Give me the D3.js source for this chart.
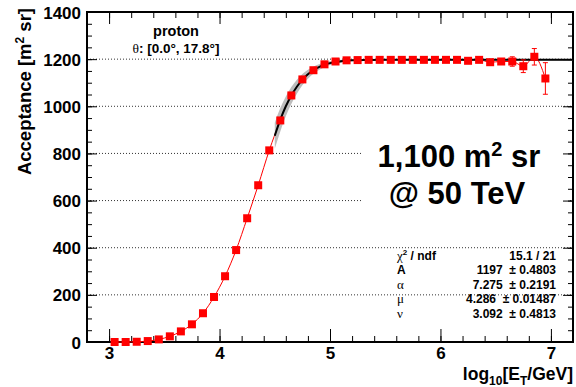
<!DOCTYPE html>
<html>
<head>
<meta charset="utf-8">
<script src="https://cdn.jsdelivr.net/npm/d3@7"></script>
<style>
  body { margin: 0; background: #fff; }
  svg { display: block; font-family: "Liberation Sans", Arial, sans-serif; }
  .greek { font-family: "Liberation Serif", serif; font-weight: normal; }
</style>
</head>
<body>
<div class="canvas"></div>
<script>
// canvas size and frame
const width = 576;
const height = 387;
const marginTop = 12;
const marginRight = 3;
const marginBottom = 45;
const marginLeft = 87;

// data
const logE = [3.05, 3.15, 3.25, 3.35, 3.45, 3.55, 3.65, 3.75, 3.85, 3.95,
              4.05, 4.15, 4.25, 4.35, 4.45, 4.55, 4.65, 4.75, 4.85, 4.95,
              5.05, 5.15, 5.25, 5.35, 5.45, 5.55, 5.65, 5.75, 5.85, 5.95,
              6.05, 6.15, 6.25, 6.35, 6.45, 6.55, 6.65, 6.75, 6.85, 6.95];
const acceptance = [0, 0, 1, 4, 11, 24, 45, 75, 122, 191,
                    279, 390, 525, 665, 813, 940, 1046, 1114, 1153, 1178,
                    1190, 1195, 1196, 1197, 1197, 1197, 1197, 1197, 1197, 1197,
                    1197, 1197, 1193, 1197, 1187, 1190, 1190, 1170, 1210, 1118];
const errors = [0, 0, 0, 1, 1, 2, 2, 3, 3, 4,
                4, 4, 4, 4, 4, 4, 3, 3, 3, 3,
                3, 3, 3, 3, 3, 3, 3, 3, 3, 3,
                3, 3, 4, 3, 8, 6, 20, 27, 35, 67];

// fit curve and its band
const fitE = [4.5, 4.55, 4.6, 4.65, 4.7, 4.75, 4.8, 4.85, 4.9, 4.95, 5.0, 5.1, 5.2, 5.3, 5.5, 7.2];
const fitA = [875, 943, 1000, 1046, 1083, 1113, 1136, 1153, 1166, 1176, 1183, 1191, 1195, 1196, 1197, 1197];
const fitErr = [55, 50, 42, 36, 30, 24, 19, 15, 12, 10, 8, 6, 4, 4, 3, 3];

// tick values
const xMajor = [3, 4, 5, 6, 7];
const yMajor = [0, 200, 400, 600, 800, 1000, 1200, 1400];
const gridValues = [200, 400, 600, 800, 1000, 1200];

// fit statistics
const statLabels = ["χ2 / ndf", "A", "α", "μ", "ν"];
const statValues = ["15.1 / 21", "1197  ± 0.4803", "7.275  ± 0.2191", "4.286  ± 0.01487", "3.092  ± 0.4813"];

const x = d3.scaleLinear()
  .domain([2.8, 7.2])
  .range([marginLeft, width - marginRight]);

const y = d3.scaleLinear()
  .domain([0, 1400])
  .range([height - marginBottom, marginTop]);

const svg = d3.select(".canvas").append("svg")
  .attr("width", width)
  .attr("height", height);

const xMinor = d3.range(2.8, 7.21, 0.2).map(d => +d.toFixed(1));
const yMinor = d3.range(0, 1401, 50);

// dotted gridlines
svg.append("g")
  .selectAll("line")
  .data(gridValues)
  .join("line")
    .attr("x1", x(2.8))
    .attr("x2", x(7.2))
    .attr("y1", d => y(d))
    .attr("y2", d => y(d))
    .attr("stroke", "#333")
    .attr("stroke-width", 1)
    .attr("stroke-dasharray", "1,2");

// white box under the big label
svg.append("rect")
  .attr("x", 362)
  .attr("y", 130)
  .attr("width", 208)
  .attr("height", 84)
  .attr("fill", "#fff");

// axes (ROOT style, ticks pointing inward on all four sides)
function styleAxis(g) {
  g.select(".domain").remove();
  g.selectAll(".tick line").attr("stroke", "#000").attr("stroke-width", 1);
  g.selectAll(".tick text")
    .attr("fill", "#000")
    .attr("font-size", 17)
    .attr("font-weight", "bold")
    .attr("font-family", "Liberation Sans, Arial, sans-serif");
}

svg.append("g")
  .attr("transform", `translate(0, ${height - marginBottom})`)
  .call(d3.axisBottom(x).tickValues(xMajor).tickSizeInner(-13).tickSizeOuter(0).tickPadding(5).tickFormat(d3.format("d")))
  .call(styleAxis);
svg.append("g")
  .attr("transform", `translate(0, ${height - marginBottom})`)
  .call(d3.axisBottom(x).tickValues(xMinor).tickSizeInner(-6).tickSizeOuter(0).tickFormat(""))
  .call(styleAxis);
svg.append("g")
  .attr("transform", `translate(0, ${marginTop})`)
  .call(d3.axisTop(x).tickValues(xMajor).tickSizeInner(-12).tickSizeOuter(0).tickFormat(""))
  .call(styleAxis);
svg.append("g")
  .attr("transform", `translate(0, ${marginTop})`)
  .call(d3.axisTop(x).tickValues(xMinor).tickSizeInner(-6).tickSizeOuter(0).tickFormat(""))
  .call(styleAxis);

svg.append("g")
  .attr("transform", `translate(${marginLeft}, 0)`)
  .call(d3.axisLeft(y).tickValues(yMajor).tickSizeInner(-10).tickSizeOuter(0).tickPadding(6).tickFormat(d3.format("d")))
  .call(styleAxis)
  .selectAll(".tick text").attr("dy", "0.36em");
svg.append("g")
  .attr("transform", `translate(${marginLeft}, 0)`)
  .call(d3.axisLeft(y).tickValues(yMinor).tickSizeInner(-5).tickSizeOuter(0).tickFormat(""))
  .call(styleAxis);
svg.append("g")
  .attr("transform", `translate(${width - marginRight}, 0)`)
  .call(d3.axisRight(y).tickValues(yMajor).tickSizeInner(-10).tickSizeOuter(0).tickFormat(""))
  .call(styleAxis);
svg.append("g")
  .attr("transform", `translate(${width - marginRight}, 0)`)
  .call(d3.axisRight(y).tickValues(yMinor).tickSizeInner(-5).tickSizeOuter(0).tickFormat(""))
  .call(styleAxis);

// frame
svg.append("rect")
  .attr("x", marginLeft)
  .attr("y", marginTop)
  .attr("width", width - marginRight - marginLeft)
  .attr("height", height - marginBottom - marginTop)
  .attr("fill", "none")
  .attr("stroke", "#000")
  .attr("stroke-width", 2);

const points = logE.map((e, i) => ({e: e, a: acceptance[i], err: errors[i]}));
const fitPoints = fitE.map((e, i) => ({e: e, a: fitA[i], err: fitErr[i]}));

// red line through the points
const line = d3.line()
  .x(d => x(d.e))
  .y(d => y(d.a))
  .curve(d3.curveMonotoneX);

svg.append("path")
  .datum(points)
  .attr("d", line)
  .attr("fill", "none")
  .attr("stroke", "#ff0000")
  .attr("stroke-width", 1);

// fit band and fit curve
const band = d3.area()
  .x(d => x(d.e))
  .y0(d => y(d.a - d.err))
  .y1(d => y(d.a + d.err))
  .curve(d3.curveMonotoneX);

svg.append("path")
  .datum(fitPoints)
  .attr("d", band)
  .attr("fill", "#bdbdbd");
svg.append("path")
  .datum(fitPoints)
  .attr("d", line)
  .attr("fill", "none")
  .attr("stroke", "#000")
  .attr("stroke-width", 2);

// error bars
const eb = svg.append("g").attr("stroke", "#ff0000").attr("stroke-width", 1);
eb.selectAll(".bar")
  .data(points)
  .join("line")
    .attr("class", "bar")
    .attr("x1", d => x(d.e))
    .attr("x2", d => x(d.e))
    .attr("y1", d => y(d.a - d.err))
    .attr("y2", d => y(d.a + d.err));
eb.selectAll(".capHi")
  .data(points.filter(d => d.err >= 5))
  .join("line")
    .attr("class", "capHi")
    .attr("x1", d => x(d.e) - 2.5)
    .attr("x2", d => x(d.e) + 2.5)
    .attr("y1", d => y(d.a + d.err))
    .attr("y2", d => y(d.a + d.err));
eb.selectAll(".capLo")
  .data(points.filter(d => d.err >= 5))
  .join("line")
    .attr("class", "capLo")
    .attr("x1", d => x(d.e) - 2.5)
    .attr("x2", d => x(d.e) + 2.5)
    .attr("y1", d => y(d.a - d.err))
    .attr("y2", d => y(d.a - d.err));

// square markers
svg.append("g")
  .selectAll("rect")
  .data(points)
  .join("rect")
    .attr("x", d => x(d.e) - 4)
    .attr("y", d => y(d.a) - 4)
    .attr("width", 8)
    .attr("height", 8)
    .attr("fill", "#ff0000");

// axis titles
const yTitle = svg.append("text")
  .attr("transform", "translate(31, 8) rotate(-90)")
  .attr("text-anchor", "end")
  .attr("font-size", 18.5)
  .attr("font-weight", "bold");
yTitle.append("tspan").text("Acceptance [m");
yTitle.append("tspan").attr("font-size", 12).attr("dy", -7).text("2");
yTitle.append("tspan").attr("dy", 7).text(" sr]");

const xTitle = svg.append("text")
  .attr("x", 573)
  .attr("y", 380)
  .attr("text-anchor", "end")
  .attr("font-size", 17.5)
  .attr("font-weight", "bold");
xTitle.append("tspan").text("log");
xTitle.append("tspan").attr("font-size", 12).attr("dy", 5).text("10");
xTitle.append("tspan").attr("dy", -5).text("[E");
xTitle.append("tspan").attr("font-size", 12).attr("dy", 5).text("T");
xTitle.append("tspan").attr("dy", -5).text("/GeV]");

// particle and angle label
svg.append("text")
  .attr("x", 176)
  .attr("y", 36)
  .attr("text-anchor", "middle")
  .attr("font-size", 14.5)
  .attr("font-weight", "bold")
  .text("proton");
const theta = svg.append("text")
  .attr("x", 176)
  .attr("y", 53)
  .attr("text-anchor", "middle")
  .attr("font-size", 13.5)
  .attr("font-weight", "bold");
theta.append("tspan").attr("class", "greek").text("θ");
theta.append("tspan").text(": [0.0°, 17.8°]");

// big label
const big1 = svg.append("text")
  .attr("x", 459)
  .attr("y", 167)
  .attr("text-anchor", "middle")
  .attr("font-size", 31)
  .attr("font-weight", "bold");
big1.append("tspan").text("1,100 m");
big1.append("tspan").attr("font-size", 20).attr("dy", -11).text("2");
big1.append("tspan").attr("dy", 11).text(" sr");
svg.append("text")
  .attr("x", 457)
  .attr("y", 204)
  .attr("text-anchor", "middle")
  .attr("font-size", 31)
  .attr("font-weight", "bold")
  .text("@ 50 TeV");

// fit statistics box
const rowY = [260, 274, 289, 303, 318];
const stats = svg.append("g").attr("font-size", 12).attr("font-weight", "bold");
statLabels.forEach((s, i) => {
  const t = stats.append("text").attr("x", 397).attr("y", rowY[i]);
  if (i === 0) {
    t.append("tspan").attr("class", "greek").attr("font-size", 13).text("χ");
    t.append("tspan").attr("font-size", 8).attr("dy", -5).text("2");
    t.append("tspan").attr("dy", 5).text(" / ndf");
  } else if (i === 1) {
    t.text(s);
  } else {
    t.append("tspan").attr("class", "greek").attr("font-size", 13).text(s);
  }
  stats.append("text")
    .attr("x", 556)
    .attr("y", rowY[i])
    .attr("text-anchor", "end")
    .attr("xml:space", "preserve")
    .style("white-space", "pre")
    .text(statValues[i]);
});
</script>
</body>
</html>
